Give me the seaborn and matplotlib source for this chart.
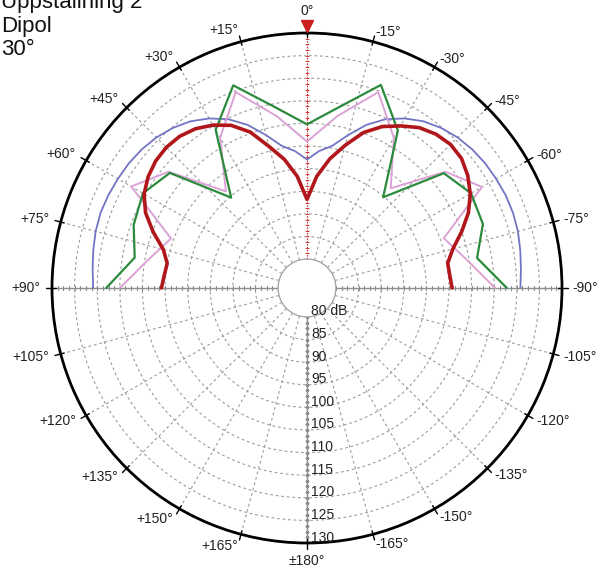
import matplotlib.pyplot as plt
import numpy as np
import pandas as pd
import seaborn as sns

sns.set_theme(style="white")
plt.rcParams["font.family"] = ["Liberation Sans", "DejaVu Sans"]

# ------------------------------------------------------------
# Data (dB, angle in degrees, + = left side)
# ------------------------------------------------------------
angles_5 = [-90, -85, -80, -75, -70, -65, -60, -55, -50, -45, -40, -35, -30,
            -25, -20, -15, -10, -5, 0, 5, 10, 15, 20, 25, 30, 35, 40, 45,
            50, 55, 60, 65, 70, 75, 80, 85, 90]
angles_10 = [-90, -80, -70, -60, -50, -40, -30, -20, -10, 0,
             10, 20, 30, 40, 50, 60, 70, 80, 90]

blue_db = [120.8, 121.1, 121.5, 121.9, 122.1, 122.1, 121.9, 121.7, 121.3,
           120.7, 119.8, 118.6, 116.9, 114.8, 112.0, 108.6, 105.5, 104.0,
           102.0, 104.0, 105.5, 108.6, 112.0, 114.8, 116.9, 118.6, 119.8,
           120.7, 121.3, 121.7, 121.9, 122.1, 122.2, 122.0, 121.6, 121.2,
           120.9]
red_db = [105.7, 105.3, 105.2, 107.0, 110.0, 113.0, 115.3, 117.0, 118.2,
          118.5, 118.0, 116.9, 115.0, 113.0, 110.2, 106.3, 102.6, 98.4,
          93.2, 98.4, 102.5, 106.0, 110.3, 113.3, 115.2, 116.6, 117.4,
          117.6, 117.3, 116.5, 115.2, 113.0, 109.8, 106.5, 105.0, 105.3,
          105.8]
green_db = [117.8, 111.8, 115.0, 115.5, 113.1, 99.8, 113.8, 121.4, 114.2,
            109.8, 114.2, 121.3, 114.0, 99.7, 113.2, 115.5, 114.4, 112.3,
            118.0]
pink_db = [115.2, 109.5, 105.8, 118.3, 113.6, 102.4, 112.0, 119.7, 112.2,
           106.0, 112.2, 119.7, 112.0, 101.5, 113.6, 118.5, 105.6, 109.3,
           115.0]

ring_levels = [80, 85, 90, 95, 100, 105, 110, 115, 120, 125, 130]
title_lines = ["Uppställning 2", "Dipol", "30°"]

series = [
    ("blue", angles_5, blue_db, "#7274c4", 1.3),
    ("pink", angles_10, pink_db, "#dca2d6", 1.4),
    ("green", angles_10, green_db, "#2b8a3c", 1.6),
    ("red", angles_5, red_db, "#b0161a", 2.6),
]

# ------------------------------------------------------------
# Figure / polar axes
# ------------------------------------------------------------
fig = plt.figure(figsize=(6, 5.73), dpi=100)
ax = fig.add_axes([52 / 600, 30 / 573, 510 / 600, 510 / 573], projection="polar")
ax.set_theta_zero_location("N")
ax.set_theta_direction(1)
ax.set_ylim(80, 130)
ax.set_rorigin(73.6)

tick_deg = np.arange(0, 360, 15)
ax.set_xticks(np.deg2rad(tick_deg))
ax.set_xticklabels([])
ax.set_yticks(ring_levels[1:-1])
ax.set_yticklabels([])
ax.grid(True, color="#9c9c9c", lw=0.8, ls=(0, (2.5, 2.5)))
ax.tick_params(axis="x", bottom=False, top=False)
ax.tick_params(axis="y", left=False, right=False)
ax.spines["polar"].set_color("black")
ax.spines["polar"].set_linewidth(2)
ax.spines["inner"].set_color("#a0a0a0")
ax.spines["inner"].set_linewidth(0.9)

# small tick marks on the outer circle
for deg in tick_deg:
    t = np.deg2rad(deg)
    ax.plot([t, t], [129.2, 131.3], color="black", lw=1, clip_on=False, zorder=5)

# ruler lines along the main axes
ruler = np.arange(80, 130.01, 1.25)
for ang, mk in [(90, "|"), (-90, "|"), (180, "_")]:
    ax.plot(np.full_like(ruler, np.deg2rad(ang)), ruler, color="#8e8e8e",
            lw=1.0, marker=mk, ms=3.5, mew=0.8, zorder=2.2)
ax.plot(np.zeros_like(ruler), ruler, color="white", lw=2.5, zorder=2.1)
ax.plot(np.zeros_like(ruler), ruler, color="#d23a3a", lw=0.8,
        ls=(0, (1.5, 1)), marker="_", ms=3, mew=0.6, zorder=2.2)

# measured curves
for name, angs, vals, col, lw in series:
    df = pd.DataFrame({"theta": np.deg2rad(angs), "db": vals})
    sns.lineplot(data=df, x="theta", y="db", ax=ax, color=col, lw=lw,
                 sort=False, estimator=None, zorder=3)
ax.set_xlabel("")
ax.set_ylabel("")

# on-axis marker
ax.plot(0, 131.6, marker="v", ms=8, color="#cc1f1f", clip_on=False, zorder=6)

# angle labels: left side right-aligned, right side left-aligned
for deg in tick_deg:
    if deg == 0:
        txt, ha, va, pad = "0°", "center", "bottom", 15
    elif deg == 180:
        txt, ha, va, pad = "±180°", "center", "top", 11
    elif deg < 180:
        txt, ha, va, pad = f"+{deg}°", "right", "center", 12
    else:
        txt, ha, va, pad = f"-{360 - deg}°", "left", "center", 10
    t = np.deg2rad(deg)
    ax.annotate(txt, xy=(t, 130), xytext=(-pad * np.sin(t), pad * np.cos(t)),
                textcoords="offset pixels", ha=ha, va=va, fontsize=10,
                color="#222222", annotation_clip=False)

# level labels along the 180 degree axis
for lv in ring_levels:
    lab = f"{lv} dB" if lv == ring_levels[0] else str(lv)
    ax.annotate(lab, xy=(np.pi, lv), xytext=(4, 1.5), textcoords="offset pixels",
                ha="left", va="baseline", fontsize=10, color="#222222",
                annotation_clip=False, zorder=7)

# title block in the upper left corner
for i, line in enumerate(title_lines):
    fig.text(0.002, 1 - (8.4 + 23.3 * i) / 573, line, ha="left", va="baseline",
             fontsize=16, color="#111111")

fig.savefig("out.png", dpi=100, facecolor="white")
